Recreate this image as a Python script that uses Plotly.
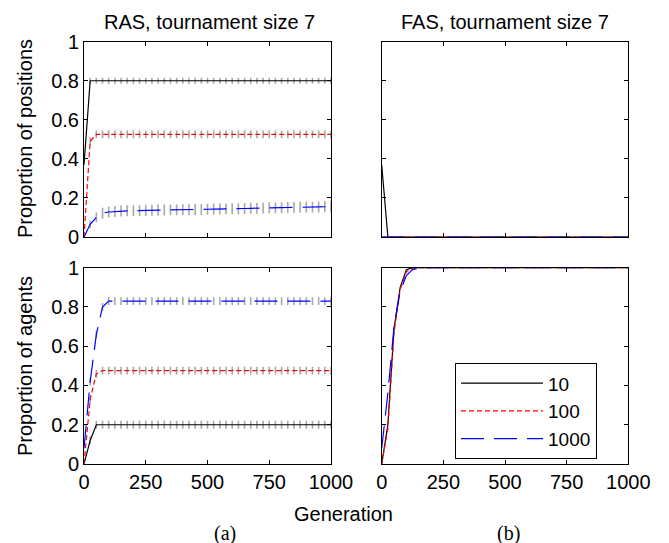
import plotly.graph_objects as go

# ---------------- data ----------------
gens = [0, 25, 50, 75, 100, 125, 150, 175, 200, 225,
        250, 275, 300, 325, 350, 375, 400, 425, 450, 475,
        500, 525, 550, 575, 600, 625, 650, 675, 700, 725,
        750, 775, 800, 825, 850, 875, 900, 925, 950, 975, 1000]

# RAS, proportion of positions
ras_pos_10 = [0.37, 0.80, 0.80, 0.80, 0.80, 0.80, 0.80, 0.80, 0.80, 0.80,
              0.80, 0.80, 0.80, 0.80, 0.80, 0.80, 0.80, 0.80, 0.80, 0.80,
              0.80, 0.80, 0.80, 0.80, 0.80, 0.80, 0.80, 0.80, 0.80, 0.80,
              0.80, 0.80, 0.80, 0.80, 0.80, 0.80, 0.80, 0.80, 0.80, 0.80, 0.80]
ras_pos_100 = [0.0, 0.49, 0.525, 0.525, 0.525, 0.525, 0.525, 0.525, 0.525, 0.525,
               0.525, 0.525, 0.525, 0.525, 0.525, 0.525, 0.525, 0.525, 0.525, 0.525,
               0.525, 0.525, 0.525, 0.525, 0.525, 0.525, 0.525, 0.525, 0.525, 0.525,
               0.525, 0.525, 0.525, 0.525, 0.525, 0.525, 0.525, 0.525, 0.525, 0.525, 0.525]
ras_pos_1000 = [0.0, 0.065, 0.100, 0.122, 0.128, 0.131, 0.133, 0.134, 0.135, 0.135,
                0.136, 0.137, 0.138, 0.138, 0.139, 0.139, 0.140, 0.140, 0.141, 0.141,
                0.142, 0.143, 0.143, 0.144, 0.145, 0.145, 0.146, 0.147, 0.147, 0.148,
                0.149, 0.149, 0.150, 0.151, 0.151, 0.152, 0.153, 0.153, 0.154, 0.155, 0.155]
ras_pos_10_err = [0.0, 0.015, 0.015, 0.015, 0.015, 0.015, 0.015, 0.015, 0.015, 0.015,
                  0.015, 0.015, 0.015, 0.015, 0.015, 0.015, 0.015, 0.015, 0.015, 0.015,
                  0.015, 0.015, 0.015, 0.015, 0.015, 0.015, 0.015, 0.015, 0.015, 0.015,
                  0.015, 0.015, 0.015, 0.015, 0.015, 0.015, 0.015, 0.015, 0.015, 0.015, 0.015]
ras_pos_100_err = [0.0, 0.02, 0.02, 0.02, 0.02, 0.02, 0.02, 0.02, 0.02, 0.02,
                   0.02, 0.02, 0.02, 0.02, 0.02, 0.02, 0.02, 0.02, 0.02, 0.02,
                   0.02, 0.02, 0.02, 0.02, 0.02, 0.02, 0.02, 0.02, 0.02, 0.02,
                   0.02, 0.02, 0.02, 0.02, 0.02, 0.02, 0.02, 0.02, 0.02, 0.02, 0.02]
ras_pos_1000_err = [0.0, 0.02, 0.025, 0.028, 0.028, 0.028, 0.028, 0.028, 0.028, 0.028,
                    0.028, 0.028, 0.028, 0.028, 0.028, 0.028, 0.028, 0.028, 0.028, 0.028,
                    0.028, 0.028, 0.028, 0.028, 0.028, 0.028, 0.028, 0.028, 0.028, 0.028,
                    0.028, 0.028, 0.028, 0.028, 0.028, 0.028, 0.028, 0.028, 0.028, 0.028, 0.028]

# RAS, proportion of agents
ras_ag_10 = [0.0, 0.12, 0.20, 0.20, 0.20, 0.20, 0.20, 0.20, 0.20, 0.20,
             0.20, 0.20, 0.20, 0.20, 0.20, 0.20, 0.20, 0.20, 0.20, 0.20,
             0.20, 0.20, 0.20, 0.20, 0.20, 0.20, 0.20, 0.20, 0.20, 0.20,
             0.20, 0.20, 0.20, 0.20, 0.20, 0.20, 0.20, 0.20, 0.20, 0.20, 0.20]
ras_ag_100 = [0.0, 0.33, 0.46, 0.476, 0.476, 0.476, 0.476, 0.476, 0.476, 0.476,
              0.476, 0.476, 0.476, 0.476, 0.476, 0.476, 0.476, 0.476, 0.476, 0.476,
              0.476, 0.476, 0.476, 0.476, 0.476, 0.476, 0.476, 0.476, 0.476, 0.476,
              0.476, 0.476, 0.476, 0.476, 0.476, 0.476, 0.476, 0.476, 0.476, 0.476, 0.476]
ras_ag_1000 = [0.08, 0.42, 0.66, 0.80, 0.83, 0.83, 0.83, 0.83, 0.83, 0.83,
               0.83, 0.83, 0.83, 0.83, 0.83, 0.83, 0.83, 0.83, 0.83, 0.83,
               0.83, 0.83, 0.83, 0.83, 0.83, 0.83, 0.83, 0.83, 0.83, 0.83,
               0.83, 0.83, 0.83, 0.83, 0.83, 0.83, 0.83, 0.83, 0.83, 0.83, 0.83]
ras_ag_err = [0.0, 0.02, 0.02, 0.02, 0.02, 0.02, 0.02, 0.02, 0.02, 0.02,
              0.02, 0.02, 0.02, 0.02, 0.02, 0.02, 0.02, 0.02, 0.02, 0.02,
              0.02, 0.02, 0.02, 0.02, 0.02, 0.02, 0.02, 0.02, 0.02, 0.02,
              0.02, 0.02, 0.02, 0.02, 0.02, 0.02, 0.02, 0.02, 0.02, 0.02, 0.02]

# FAS
gens_fas = [0, 25, 50, 75, 100, 125, 150, 175, 200, 1000]
fas_pos_10 = [0.37, 0.0, 0.0, 0.0, 0.0, 0.0, 0.0, 0.0, 0.0, 0.0]
fas_pos_100 = [0.0, 0.0, 0.0, 0.0, 0.0, 0.0, 0.0, 0.0, 0.0, 0.0]
fas_pos_1000 = [0.0, 0.0, 0.0, 0.0, 0.0, 0.0, 0.0, 0.0, 0.0, 0.0]
fas_ag_10 = [0.0, 0.20, 0.69, 0.90, 0.99, 1.0, 1.0, 1.0, 1.0, 1.0]
fas_ag_100 = [0.0, 0.18, 0.67, 0.89, 0.98, 0.997, 1.0, 1.0, 1.0, 1.0]
fas_ag_1000 = [0.08, 0.36, 0.70, 0.88, 0.96, 0.99, 0.998, 1.0, 1.0, 1.0]

series_names = ["10", "100", "1000"]
x_ticks = [0, 250, 500, 750, 1000]
y_ticks = [0, 0.2, 0.4, 0.6, 0.8, 1]

# ---------------- styles ----------------
SANS = "Liberation Sans, Arial, Helvetica, sans-serif"
SERIF = "Liberation Serif, Times New Roman, serif"
styles = [
    dict(color="#000000", width=1.2, dash="solid"),
    dict(color="#ff0000", width=1.2, dash="5px,3px"),
    dict(color="#0000ff", width=1.2, dash="23px,10px"),
]
ERR_COLOR = "#a8a8a8"

fig = go.Figure()

panels = [
    ("x", "y", gens, [ras_pos_10, ras_pos_100, ras_pos_1000],
     [ras_pos_10_err, ras_pos_100_err, ras_pos_1000_err], False),
    ("x2", "y2", gens_fas, [fas_pos_10, fas_pos_100, fas_pos_1000], None, False),
    ("x3", "y3", gens, [ras_ag_10, ras_ag_100, ras_ag_1000],
     [ras_ag_err, ras_ag_err, ras_ag_err], False),
    ("x4", "y4", gens_fas, [fas_ag_10, fas_ag_100, fas_ag_1000], None, True),
]

for xa, ya, xs, ys_list, errs, legend in panels:
    if errs is not None:
        for ys, er in zip(ys_list, errs):
            fig.add_trace(go.Scatter(
                x=xs, y=ys, xaxis=xa, yaxis=ya, mode="markers",
                marker=dict(size=1, color="rgba(0,0,0,0)"),
                error_y=dict(type="data", array=er, visible=True,
                             color=ERR_COLOR, thickness=1.6, width=0),
                showlegend=False, hoverinfo="skip"))
    for name, ys, st in zip(series_names, ys_list, styles):
        fig.add_trace(go.Scatter(
            x=xs, y=ys, xaxis=xa, yaxis=ya, mode="lines", name=name,
            line=st, showlegend=legend))

xd_left = [84 / 669, 331 / 669]
xd_right = [381.7 / 669, 628.3 / 669]
yd_top = [(543 - 237) / 543, (543 - 41.7) / 543]
yd_bot = [(543 - 464) / 543, (543 - 267.7) / 543]

def ax(domain, anchor, showlabels, tickvals):
    return dict(domain=domain, anchor=anchor, range=[0, tickvals[-1]],
                tickvals=tickvals, showticklabels=showlabels,
                showline=True, linecolor="black", linewidth=1, mirror="ticks",
                ticks="inside", ticklen=4, tickcolor="black", tickwidth=1,
                showgrid=False, zeroline=False, automargin=False,
                tickfont=dict(family=SANS, size=20, color="black"))

fig.update_layout(
    width=669, height=543,
    margin=dict(l=0, r=0, t=0, b=0),
    paper_bgcolor="white", plot_bgcolor="white",
    xaxis=ax(xd_left, "y", False, x_ticks),
    yaxis=ax(yd_top, "x", True, y_ticks),
    xaxis2=ax(xd_right, "y2", False, x_ticks),
    yaxis2=ax(yd_top, "x2", False, y_ticks),
    xaxis3=ax(xd_left, "y3", True, x_ticks),
    yaxis3=ax(yd_bot, "x3", True, y_ticks),
    xaxis4=ax(xd_right, "y4", True, x_ticks),
    yaxis4=ax(yd_bot, "x4", False, y_ticks),
    legend=dict(x=455 / 669, y=(543 - 363.3) / 543, xanchor="left", yanchor="top",
                bgcolor="white", bordercolor="black", borderwidth=1,
                font=dict(family=SANS, size=19, color="black"),
                itemwidth=82, tracegroupgap=0,
                entrywidth=73, entrywidthmode="pixels"),
    showlegend=True,
)

ann = [
    dict(text="RAS, tournament size 7", x=209 / 669, y=1 - 22 / 543, size=20, fam=SANS, angle=0),
    dict(text="FAS, tournament size 7", x=505 / 669, y=1 - 22 / 543, size=20, fam=SANS, angle=0),
    dict(text="Proportion of positions", x=25 / 669, y=1 - 139 / 543, size=20, fam=SANS, angle=-90),
    dict(text="Proportion of agents", x=25 / 669, y=1 - 366 / 543, size=20, fam=SANS, angle=-90),
    dict(text="Generation", x=343 / 669, y=1 - 514 / 543, size=20, fam=SANS, angle=0),
    dict(text="(a)", x=225 / 669, y=1 - 533 / 543, size=20, fam=SERIF, angle=0),
    dict(text="(b)", x=508 / 669, y=1 - 533 / 543, size=20, fam=SERIF, angle=0),
]
for a in ann:
    fig.add_annotation(text=a["text"], x=a["x"], y=a["y"], xref="paper", yref="paper",
                       xanchor="center", yanchor="middle", showarrow=False,
                       textangle=a["angle"],
                       font=dict(family=a["fam"], size=a["size"], color="black"))

fig.write_html("out.html")
